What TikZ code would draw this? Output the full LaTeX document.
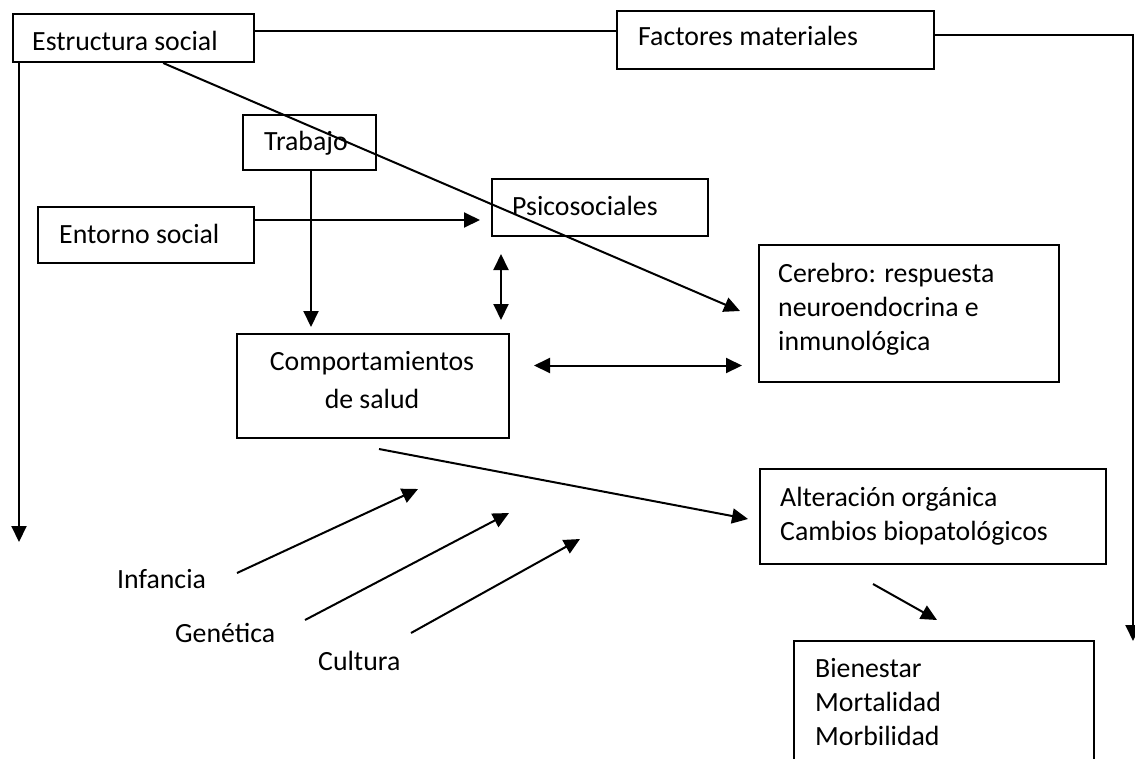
\documentclass[tikz,border=0pt]{standalone}
\usepackage{fontspec}
\setmainfont{Carlito}
\usetikzlibrary{arrows.meta,calc}
\newcommand{\mytabl}[1]{\begin{tabular}[t]{@{}l@{}}#1\end{tabular}}
\newcommand{\mytabc}[1]{\begin{tabular}[t]{@{}c@{}}#1\end{tabular}}
\tikzset{
  boxnode/.style={draw=black, line width=2pt, anchor=north west, inner sep=0pt},
  txt/.style={anchor=base west, inner sep=0pt, text=black},
  conn/.style={draw=black, line width=2pt},
  arr/.style={conn, -{Triangle[length=16pt,width=15pt]}},
  dbl/.style={conn, {Triangle[length=16pt,width=15pt]}-{Triangle[length=16pt,width=15pt]}}
}
\begin{document}
\begin{tikzpicture}[x=1pt, y=-1pt, font=\fontsize{27.8}{34}\selectfont]
\useasboundingbox (0,0) rectangle (1135,758);
\clip (0,0) rectangle (1135,758);
\fill[white] (0,0) rectangle (1135,758);

% boxes
\node[boxnode, minimum width=241pt, minimum height=48pt] (estr) at (12,13) {};
\node[boxnode, minimum width=317pt, minimum height=58pt] (fact) at (616,9.5) {};
\node[boxnode, minimum width=133pt, minimum height=55pt] (trab) at (242,114) {};
\node[boxnode, minimum width=216pt, minimum height=56pt] (ento) at (37,206) {};
\node[boxnode, minimum width=216pt, minimum height=57pt] (psic) at (491,178) {};
\node[boxnode, minimum width=300pt, minimum height=137pt] (cere) at (758,244) {};
\node[boxnode, minimum width=272pt, minimum height=104pt] (comp) at (236,333) {};
\node[boxnode, minimum width=346pt, minimum height=95pt] (alte) at (759,468) {};
\node[boxnode, minimum width=300pt, minimum height=170pt] (bien) at (793,640) {};

% texts
\node[txt] (estr-t) at (32,50) {Estructura social};
\node[txt] (fact-t) at (638,45) {Factores materiales};
\node[txt] (trab-t) at (264,150.5) {Trabajo};
\node[txt] (ento-t) at (59,243.5) {Entorno social};
\node[txt] (psic-t) at (512,215) {Psicosociales};
\node[txt] (cere-t) at (778,282) {\mytabl{Cerebro: respuesta\\neuroendocrina e\\inmunológica}};
\node[anchor=base, inner sep=0pt] (comp-t) at (372,370) {\mytabc{Comportamientos\\[4pt]de salud}};
\node[txt] (alte-t) at (780,506) {\mytabl{Alteración orgánica\\Cambios biopatológicos}};
\node[txt] (bien-t) at (815,677) {\mytabl{Bienestar\\Mortalidad\\Morbilidad}};
\node[txt] (inf) at (117,588) {Infancia};
\node[txt] (gen) at (175,642) {Genética};
\node[txt] (cul) at (318,670) {Cultura};

% free ends
\coordinate (rend) at (1133,641);
\coordinate (lend) at (19,542);
\coordinate (infs) at (237,573);
\coordinate (infe) at (418,489);
\coordinate (gens) at (305,620);
\coordinate (gene) at (509,513);
\coordinate (culs) at (411,633);
\coordinate (cule) at (580,539);

% connectors
\draw[conn] ([yshift=7.5pt]estr.east) -- ([yshift=7.5pt]estr.east -| fact.west);
\draw[arr] ([yshift=5pt]fact.east) -| (rend);
\draw[arr] (lend |- estr.south) -- (lend);
\draw[arr] ($(estr.south west)!0.622!(estr.south east)$) -- ($(cere.west)+(-18,-2.5)$);
\draw[arr] ($(ento.east)+(-2,-15)$) -- ($(psic.west |- ento.east)+(-11,-15)$);
\draw[arr, shorten >=6pt] ([xshift=1.5pt]trab.south) -- ([xshift=1.5pt]trab.south |- comp.north);
\draw[dbl, shorten <=17pt, shorten >=13pt] ([xshift=10pt]psic.south west) -- ([xshift=10pt]psic.south west |- comp.north);
\draw[dbl, shorten <=24pt, shorten >=16pt] ([yshift=20.5pt]comp.east) -- ([yshift=20.5pt]comp.east -| cere.west);
\draw[arr] ($(comp.south)+(6,10)$) -- ($(alte.west)+(-11,2.5)$);
\draw[arr] ($(alte.south)+(-60,19)$) -- ($(bien.north)+(-7,-20)$);
\draw[arr] (infs) -- (infe);
\draw[arr] (gens) -- (gene);
\draw[arr] (culs) -- (cule);
\end{tikzpicture}
\end{document}
